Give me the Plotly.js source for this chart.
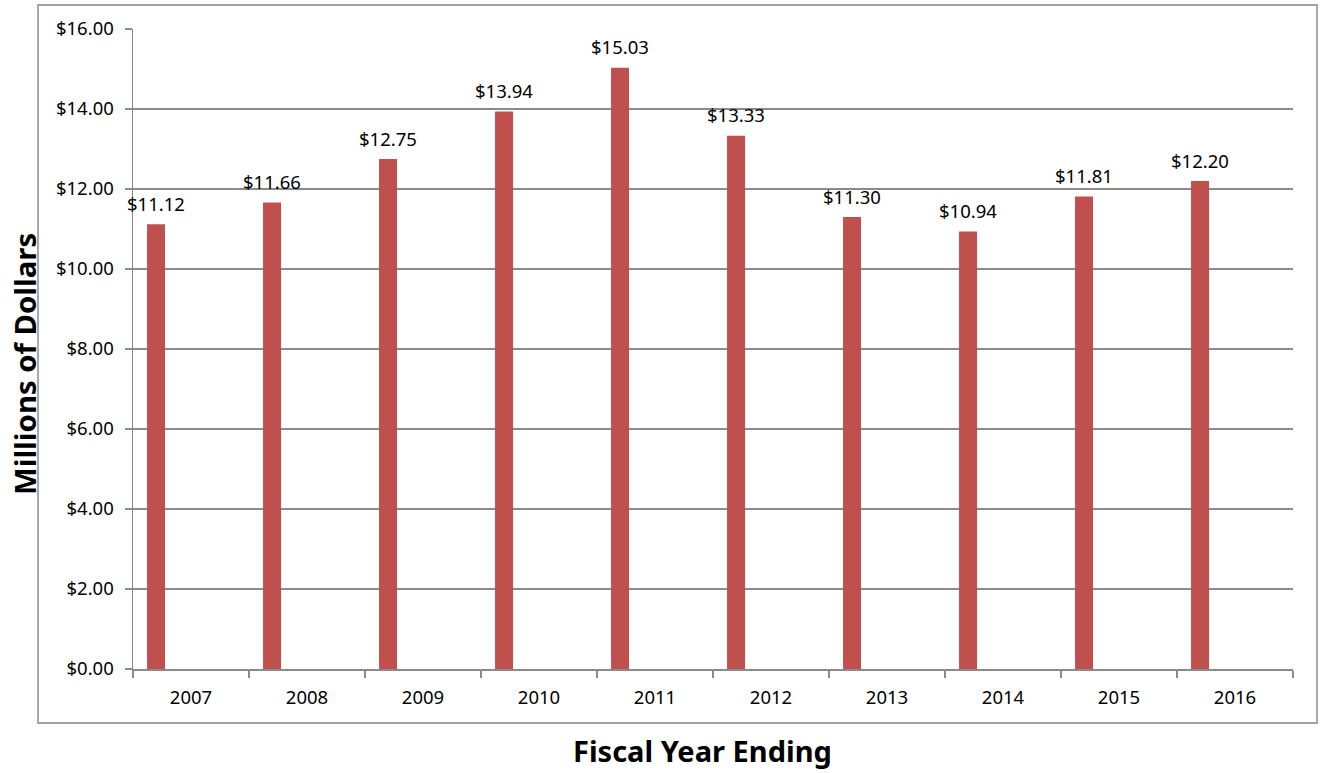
<!DOCTYPE html>
<html>
<head>
<meta charset="utf-8">
<script src="https://cdn.plot.ly/plotly-3.0.1.min.js"></script>
<style>html,body{margin:0;padding:0;background:#fff;}#chart{width:1321px;height:773px;}</style>
</head>
<body>
<div id="chart"></div>
<script>
const years = ['2007','2008','2009','2010','2011','2012','2013','2014','2015','2016'];
const values = [11.12, 11.66, 12.75, 13.94, 15.03, 13.33, 11.30, 10.94, 11.81, 12.20];
const yTickVals = [0, 2, 4, 6, 8, 10, 12, 14, 16];
const yTickText = ['$0.00','$2.00','$4.00','$6.00','$8.00','$10.00','$12.00','$14.00','$16.00'];
const xTitle = 'Fiscal Year Ending';
const yTitle = 'Millions of Dollars';

const FONT = 'Noto Sans, Open Sans, DejaVu Sans, sans-serif';
const GRID = '#8a8a8a';

const trace = {
  type: 'bar',
  x: years,
  y: values,
  width: 0.155,
  offset: -0.379,
  marker: {color: '#C0504D', line: {width: 0}},
  hoverinfo: 'x+y'
};

const annotations = years.map((yr, i) => ({
  x: i, y: values[i], xref: 'x', yref: 'y',
  text: '$' + values[i].toFixed(2),
  showarrow: false, xanchor: 'center', yanchor: 'middle',
  xshift: -35, yshift: 21,
  font: {family: FONT, size: 18.5, color: '#000'}
}));

// axis titles placed as paper annotations (plot area: x 133..1293, y 29..669)
annotations.push({
  xref: 'paper', yref: 'paper',
  x: (702 - 133) / 1160, y: (669 - 750) / 640,
  xanchor: 'center', yanchor: 'middle', showarrow: false,
  text: xTitle,
  font: {family: FONT, size: 29, color: '#000', weight: 'bold'}
});
annotations.push({
  xref: 'paper', yref: 'paper',
  x: (25 - 133) / 1160, y: (669 - 364) / 640,
  xanchor: 'center', yanchor: 'middle', showarrow: false,
  textangle: -90,
  text: yTitle,
  font: {family: FONT, size: 29.3, color: '#000', weight: 'bold'}
});

const layout = {
  width: 1321, height: 773,
  margin: {l: 133, r: 28, t: 29, b: 104, pad: 0},
  paper_bgcolor: '#fff', plot_bgcolor: '#fff',
  showlegend: false,
  font: {family: FONT, size: 18, color: '#000'},
  xaxis: {
    type: 'category',
    range: [-0.5, years.length - 0.5],
    showline: true, linecolor: GRID, linewidth: 1.5,
    ticks: 'outside', tickson: 'boundaries', ticklen: 7, tickcolor: GRID, tickwidth: 1.5,
    showgrid: false, zeroline: false,
    tickangle: 0,
    tickfont: {family: FONT, size: 18.5, color: '#000'},
    ticklabelstandoff: 11
  },
  yaxis: {
    range: [0, 16], tickvals: yTickVals, ticktext: yTickText,
    showline: true, linecolor: GRID, linewidth: 1.5,
    ticks: 'outside', ticklen: 7, tickcolor: GRID, tickwidth: 1.5,
    showgrid: true, gridcolor: GRID, gridwidth: 1.2,
    zeroline: false,
    tickfont: {family: FONT, size: 18.5, color: '#000'},
    ticklabelstandoff: 7
  },
  annotations: annotations,
  shapes: [{
    type: 'rect', xref: 'paper', yref: 'paper',
    x0: (38 - 133) / 1160, x1: (1317 - 133) / 1160,
    y0: (669 - 723) / 640, y1: (669 - 5) / 640,
    line: {color: '#a0a0a0', width: 1.8}, fillcolor: 'rgba(0,0,0,0)', layer: 'above'
  }]
};

Plotly.newPlot('chart', [trace], layout, {displayModeBar: false, staticPlot: true});
</script>
</body>
</html>
